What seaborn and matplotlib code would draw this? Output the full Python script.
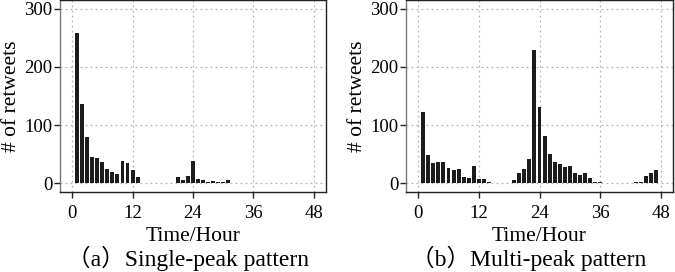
import numpy as np
import pandas as pd
import matplotlib
matplotlib.use('Agg')
import matplotlib.pyplot as plt
import seaborn as sns

# Data: retweets per hour (hours 1..48)
hours = list(range(1, 49))
single_peak = [258, 136, 80, 46, 43, 36, 24, 19, 16, 38, 35, 22, 10, 1, 0, 0,
               0, 0, 1, 1, 11, 6, 12, 38, 8, 5, 3, 4, 2, 3, 6, 0,
               1, 1, 1, 0, 0, 0, 0, 0, 0, 0, 0, 0, 0, 0, 0, 0]
multi_peak = [122, 48, 34, 36, 36, 26, 22, 24, 11, 9, 30, 8, 8, 2, 0, 1,
              1, 0, 6, 17, 24, 41, 229, 131, 81, 51, 37, 33, 28, 30, 17, 14,
              17, 9, 3, 2, 0, 1, 0, 0, 0, 1, 3, 2, 13, 17, 22, 0]
x_ticks = [0, 12, 24, 36, 48]
y_ticks = [0, 100, 200, 300]
captions = ['（a）Single-peak pattern', '（b）Multi-peak pattern']

sns.set_theme(style="white")
plt.rcParams['font.family'] = ['Liberation Serif', 'Noto Sans CJK SC']
BAR_COLOR = '#1c1c1c'

fig = plt.figure(figsize=(6.75, 2.72), dpi=100)
positions = [[60 / 675, 80 / 272, 266 / 675, 192 / 272],
             [406 / 675, 80 / 272, 267 / 675, 192 / 272]]
caption_x = [188 / 675, 529 / 675]

for pos, values, caption, cx in zip(positions, [single_peak, multi_peak], captions, caption_x):
    ax = fig.add_axes(pos)
    df = pd.DataFrame({'hour': hours, 'retweets': values})
    sns.barplot(data=df, x='hour', y='retweets', native_scale=True, width=0.78,
                color=BAR_COLOR, saturation=1, edgecolor='none', linewidth=0, ax=ax, zorder=3)
    ax.set_xlim(-2.4, 50.4)
    ax.set_ylim(-15, 315)
    ax.set_xticks(x_ticks)
    ax.set_yticks(y_ticks)
    ax.grid(True, color='#b5b5b5', linestyle=(0, (1.5, 2.5)), linewidth=0.9, zorder=0)
    ax.set_axisbelow(True)
    for side, spine in ax.spines.items():
        spine.set_color('#222222')
        spine.set_linewidth(1.0)
    ax.spines['left'].set_color('#777777')
    ax.tick_params(axis='both', direction='out', length=4, width=1, color='#222222',
                   labelsize=13.5, pad=1.5, left=True, bottom=True, labelcolor='black')
    ax.tick_params(axis='x', pad=5)
    ax.set_xlabel('Time/Hour', fontsize=15.5, labelpad=4, color='black')
    ax.set_ylabel('# of retweets', fontsize=15.5, labelpad=2, color='black')
    fig.text(cx, 14 / 272, caption, ha='center', va='center', fontsize=17, color='black')

fig.savefig('out.png', dpi=100)
